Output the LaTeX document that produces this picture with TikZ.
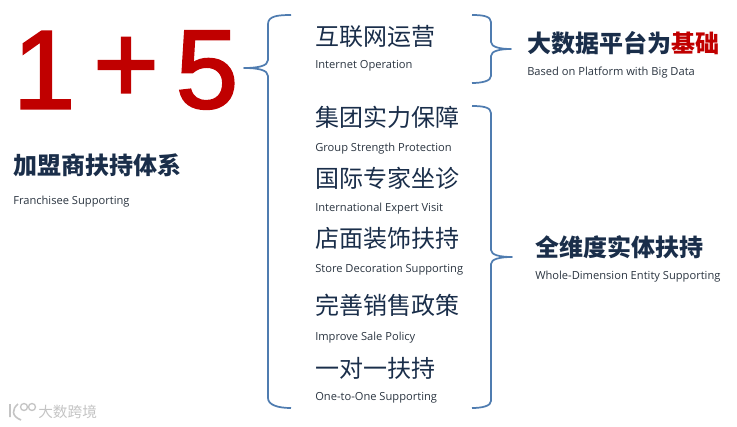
\documentclass[tikz,border=0pt]{standalone}
\usepackage{fontspec}
\setmainfont{Open Sans}
\newfontfamily\cjk{Noto Sans CJK SC}
\newfontfamily\arialfont[FakeBold=2]{Liberation Sans}
\usepackage{xcolor}
\usepackage{tikz}
\usetikzlibrary{positioning}
\definecolor{cNavy}{HTML}{1A2E4A}
\definecolor{cRed}{HTML}{C00000}
\definecolor{cBrace}{HTML}{4F7CB0}
\definecolor{cEn}{HTML}{2A3440}
\definecolor{cMark}{HTML}{C4C4C4}
\tikzset{
  bigsum/.style={font=\arialfont\fontsize{84}{84}\selectfont, text=cRed, inner sep=0pt},
  head/.style={font=\cjk\bfseries\fontsize{18}{20}\selectfont, text=cNavy, inner sep=0pt, anchor=west},
  item/.style={font=\cjk\fontsize{18}{20}\selectfont, text=cNavy, inner sep=0pt, anchor=west},
  enlbl/.style={font=\fontsize{8.35}{10}\selectfont, text=cEn, inner sep=0pt},
  curly/.style={draw=cBrace, line width=1.3pt, line join=round},
  wmark/.style={font=\cjk\fontsize{11}{12}\selectfont, text=cMark, inner sep=0pt, anchor=west},
}
\begin{document}
\begin{tikzpicture}[x=0.75pt, y=0.75pt]
  \useasboundingbox (0,0) rectangle (737,-427);
  \node[bigsum] (numone) at (44,-70) {1};
  \node[bigsum] (plus) at (126,-70) {+};
  \node[bigsum] (numfive) at (207,-70) {5};
  \node[head] (fran) at (13,-165) {加盟商扶持体系};
  \node[enlbl, below right=27.8pt and 0pt of fran.west, anchor=west] (franen) {Franchisee Supporting};
  % items
  \node[item] (net) at (315,-36) {互联网运营};
  \node[enlbl, below right=22pt and 0pt of net.west, anchor=west] (neten) {Internet Operation};
  \node[item] (grp) at (315,-117) {集团实力保障};
  \node[enlbl, below right=23.5pt and 0pt of grp.west, anchor=west] (grpen) {Group Strength Protection};
  \node[item] (intl) at (315,-178) {国际专家坐诊};
  \node[enlbl, below right=23.2pt and 0pt of intl.west, anchor=west] (intlen) {International Expert Visit};
  \node[item] (shop) at (315,-238) {店面装饰扶持};
  \node[enlbl, below right=24pt and 0pt of shop.west, anchor=west] (shopen) {Store Decoration Supporting};
  \node[item] (sale) at (315,-305) {完善销售政策};
  \node[enlbl, below right=24.7pt and 0pt of sale.west, anchor=west] (saleen) {Improve Sale Policy};
  \node[item] (one) at (315,-368) {一对一扶持};
  \node[enlbl, below right=22pt and 0pt of one.west, anchor=west] (oneen) {One-to-One Supporting};
  % right heads
  \node[head] (plat) at (527,-43) {大数据平台为\textcolor{cRed}{基础}};
  \node[enlbl, below right=22pt and 0pt of plat.west, anchor=west] (platen) {Based on Platform with Big Data};
  \node[head] (dim) at (535,-247) {全维度实体扶持};
  \node[enlbl, below right=22pt and 0pt of dim.west, anchor=west] (dimen) {Whole-Dimension Entity Supporting};
  % braces
  \draw[curly] (291,-15) .. controls (278,-15) and (268,-16) .. (268,-24) -- (268,-60)
    .. controls (268,-66) and (258,-68) .. (244,-68) .. controls (258,-68) and (268,-70) .. (268,-76)
    -- (268,-398) .. controls (268,-405) and (278,-408) .. (291,-408);
  \draw[curly] (472,-15) .. controls (482,-15) and (491,-16) .. (491,-22) -- (491,-42)
    .. controls (491,-47) and (500,-49) .. (511,-49) .. controls (500,-49) and (491,-51) .. (491,-56)
    -- (491,-76) .. controls (491,-81) and (482,-83) .. (472,-83);
  \draw[curly] (472,-106) .. controls (482,-106) and (491,-107) .. (491,-113) -- (491,-250)
    .. controls (491,-255) and (500,-257) .. (512,-257) .. controls (500,-257) and (491,-259) .. (491,-264)
    -- (491,-401) .. controls (491,-406) and (482,-408) .. (472,-408);
  % watermark
  \node[wmark] (mark) at (38,-412) {大数跨境};
  \draw[cMark, line width=1.2pt] (10,-404) -- (10,-417) (18,-404) .. controls (12,-409) and (11,-416) .. (21,-420);
  \draw[cMark, line width=1pt] (24,-407) circle (3.5) (32,-407) circle (3.5);
\end{tikzpicture}
\end{document}
